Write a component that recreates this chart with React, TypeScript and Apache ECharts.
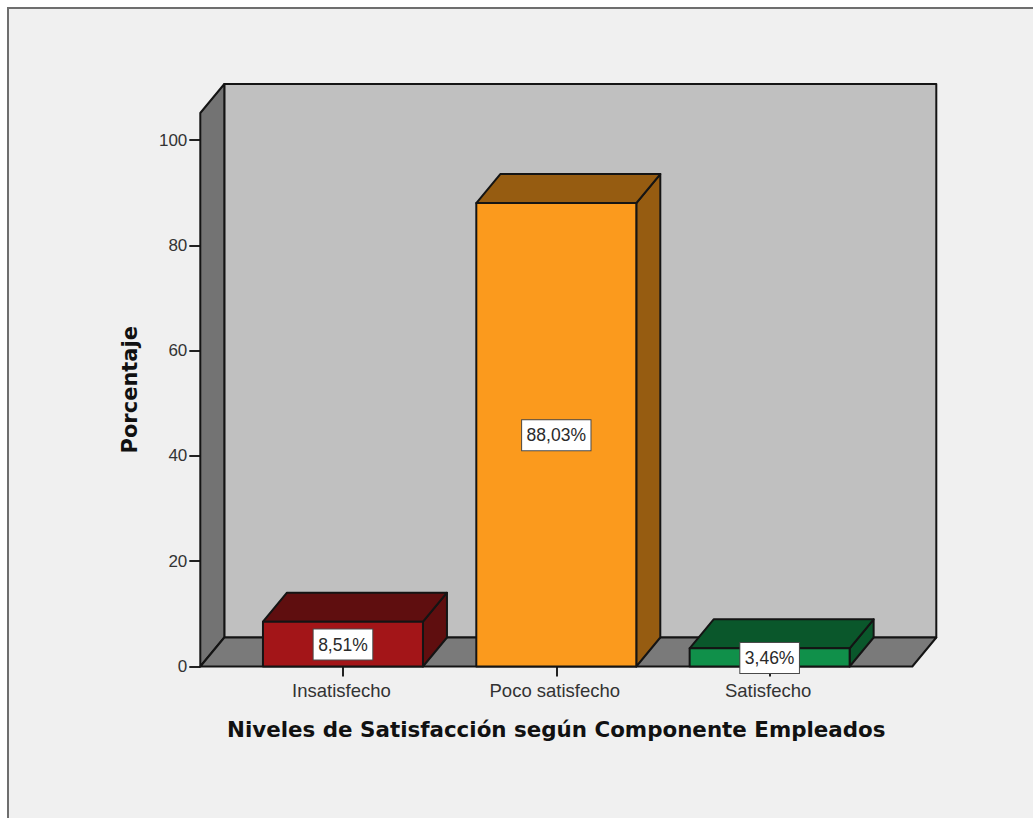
import React, { useEffect, useRef } from "react";
import * as echarts from "echarts";

const categories = ["Insatisfecho", "Poco satisfecho", "Satisfecho"];
const percentages = [8.51, 88.03, 3.46];
const frontColors = ["#a31518", "#fb9a1d", "#10904a"];
const shadeColors = ["#5f0e0f", "#965c11", "#0a572b"];
const yTicks = { min: 0, max: 105.13, interval: 20 };

const DEPTH_X = 24;
const DEPTH_Y = 29;
const WALL_OVERHANG = 36;
const EDGE = "#141414";

const edgeStyle = (fill: string) => ({ fill, stroke: EDGE, lineWidth: 2, lineJoin: "round" });

// Back wall, side wall and floor of the 3D box behind the bars.
const renderBox = (_: any, api: any) => {
  const band = api.size([1, 0])[0];
  const [cx0, y0] = api.coord([0, yTicks.min]);
  const [cx2, yTop] = api.coord([2, yTicks.max]);
  const l = cx0 - band / 2 - WALL_OVERHANG;
  const r = cx2 + band / 2 + WALL_OVERHANG;
  const poly = (points: number[][], fill: string) => ({
    type: "polygon",
    shape: { points },
    style: edgeStyle(fill),
  });
  return {
    type: "group",
    children: [
      poly(
        [
          [l + DEPTH_X, yTop - DEPTH_Y],
          [r + DEPTH_X, yTop - DEPTH_Y],
          [r + DEPTH_X, y0 - DEPTH_Y],
          [l + DEPTH_X, y0 - DEPTH_Y],
        ],
        "#c0c0c0"
      ),
      poly(
        [
          [l, yTop],
          [l + DEPTH_X, yTop - DEPTH_Y],
          [l + DEPTH_X, y0 - DEPTH_Y],
          [l, y0],
        ],
        "#737373"
      ),
      poly(
        [
          [l, y0],
          [l + DEPTH_X, y0 - DEPTH_Y],
          [r + DEPTH_X, y0 - DEPTH_Y],
          [r, y0],
        ],
        "#7a7a7a"
      ),
    ],
  };
};

// One extruded bar: front face, lid, right-hand side, then its value tag.
const renderBar = (_: any, api: any) => {
  const index = api.value(0);
  const value = api.value(1);
  const [cx, yTop] = api.coord([index, value]);
  const [, y0] = api.coord([index, 0]);
  const half = api.size([1, 0])[0] * 0.375;
  const l = cx - half;
  const r = cx + half;
  const poly = (points: number[][], fill: string) => ({
    type: "polygon",
    shape: { points },
    style: edgeStyle(fill),
  });
  const midY = (yTop + y0) / 2;
  const tag = `${value.toFixed(2).replace(".", ",")}%`;
  return {
    type: "group",
    children: [
      poly(
        [
          [r, yTop],
          [r + DEPTH_X, yTop - DEPTH_Y],
          [r + DEPTH_X, y0 - DEPTH_Y],
          [r, y0],
        ],
        shadeColors[index]
      ),
      poly(
        [
          [l, yTop],
          [l + DEPTH_X, yTop - DEPTH_Y],
          [r + DEPTH_X, yTop - DEPTH_Y],
          [r, yTop],
        ],
        shadeColors[index]
      ),
      poly(
        [
          [l, yTop],
          [r, yTop],
          [r, y0],
          [l, y0],
        ],
        frontColors[index]
      ),
      {
        type: "text",
        style: {
          x: cx,
          y: midY + 0.5,
          text: tag,
          fill: "#2a2a2a",
          font: '17.5px "Liberation Sans"',
          align: "center",
          verticalAlign: "middle",
          backgroundColor: "#ffffff",
          borderColor: "#4a4a4a",
          borderWidth: 1,
          padding: [6, 4.5, 6, 4.5],
        },
      },
    ],
  };
};

export default function App() {
  const ref = useRef<HTMLDivElement>(null);

  useEffect(() => {
    const chart = echarts.init(ref.current!, undefined, { renderer: "svg" });
    chart.setOption({
      animation: false,
      backgroundColor: "#ffffff",
      graphic: [
        {
          type: "rect",
          z: -10,
          shape: { x: 8, y: 8, width: 1200, height: 1000 },
          style: { fill: "#f0f0f0", stroke: "#6e6e6e", lineWidth: 2 },
        },
      ],
      grid: { left: 236.3, top: 113, width: 640, height: 553.5 },
      xAxis: {
        type: "category",
        data: categories,
        name: "Niveles de Satisfacción según Componente Empleados",
        nameLocation: "middle",
        nameGap: 52,
        nameTextStyle: {
          fontFamily: "DejaVu Sans",
          fontWeight: "bold",
          fontSize: 21.4,
          color: "#111111",
        },
        axisLine: { show: false },
        axisTick: {
          show: true,
          alignWithLabel: true,
          length: 10,
          lineStyle: { color: "#222222", width: 2 },
        },
        axisLabel: {
          margin: 14,
          padding: [0, 3, 0, 0],
          fontFamily: "Liberation Sans",
          fontSize: 18.5,
          color: "#333333",
        },
      },
      yAxis: {
        type: "value",
        min: yTicks.min,
        max: yTicks.max,
        interval: yTicks.interval,
        offset: WALL_OVERHANG,
        name: "Porcentaje",
        nameLocation: "middle",
        nameGap: 60,
        nameTextStyle: {
          fontFamily: "DejaVu Sans",
          fontWeight: "bold",
          fontSize: 21,
          color: "#111111",
        },
        splitLine: { show: false },
        axisLine: { show: false },
        axisTick: { show: true, length: 11, lineStyle: { color: "#222222", width: 2 } },
        axisLabel: {
          margin: 13,
          fontFamily: "Liberation Sans",
          fontSize: 17,
          color: "#333333",
          showMaxLabel: false,
        },
      },
      series: [
        {
          type: "custom",
          renderItem: renderBox,
          data: [[0, 0]],
          silent: true,
          z: 1,
          clip: false,
        },
        {
          type: "custom",
          renderItem: renderBar,
          data: percentages.map((p, i) => [i, p]),
          z: 2,
          clip: false,
          encode: { x: 0, y: 1 },
        },
      ],
    });
    return () => chart.dispose();
  }, []);

  return <div ref={ref} style={{ position: "fixed", left: 0, top: 0, width: 1033, height: 818 }} />;
}
